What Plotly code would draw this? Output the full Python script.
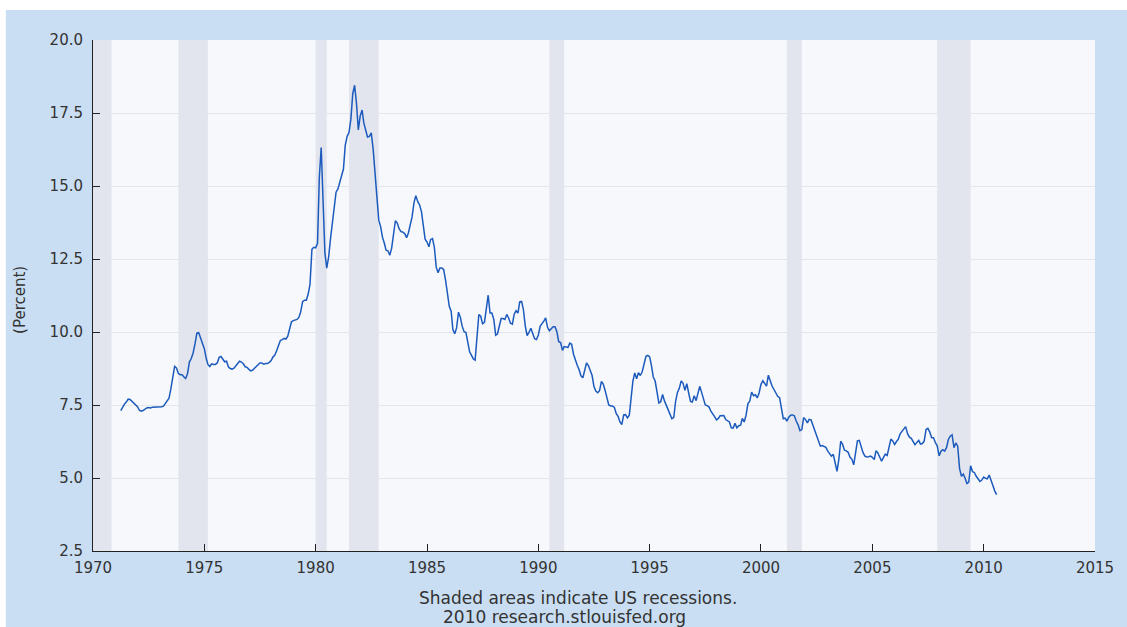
import pandas as pd
import plotly.graph_objects as go

# 30-year conventional mortgage rate, monthly, percent (Apr 1971 - Aug 2010)
rates_1970s = [
    7.31, 7.43, 7.53, 7.60, 7.70, 7.69, 7.63, 7.55, 7.48,                       # 1971 Apr-Dec
    7.44, 7.32, 7.29, 7.31, 7.37, 7.40, 7.41, 7.40, 7.42, 7.42, 7.43, 7.44,     # 1972
    7.44, 7.44, 7.46, 7.54, 7.65, 7.73, 8.05, 8.50, 8.82, 8.77, 8.58, 8.54,     # 1973
    8.54, 8.46, 8.41, 8.58, 8.97, 9.09, 9.28, 9.59, 9.96, 9.98, 9.79, 9.62,     # 1974
    9.43, 9.10, 8.89, 8.82, 8.91, 8.89, 8.89, 8.94, 9.13, 9.16, 9.08, 8.98,     # 1975
    9.00, 8.80, 8.75, 8.73, 8.76, 8.85, 8.94, 9.00, 8.97, 8.91, 8.81, 8.79,     # 1976
    8.72, 8.67, 8.69, 8.75, 8.83, 8.86, 8.94, 8.94, 8.90, 8.92, 8.92, 8.96,     # 1977
    9.02, 9.15, 9.20, 9.36, 9.57, 9.71, 9.74, 9.78, 9.76, 9.86, 10.11, 10.35,   # 1978
    10.39, 10.41, 10.43, 10.50, 10.69, 11.04, 11.09, 11.09, 11.30, 11.64, 12.83, 12.90,  # 1979
]
rates_1980s = [
    12.88, 13.04, 15.28, 16.32, 14.26, 12.71, 12.19, 12.56, 13.20, 13.79, 14.21, 14.79,  # 1980
    14.90, 15.13, 15.40, 15.58, 16.40, 16.70, 16.83, 17.29, 18.16, 18.45, 17.83, 16.92,  # 1981
    17.40, 17.60, 17.16, 16.89, 16.68, 16.70, 16.82, 16.27, 15.43, 14.61, 13.83, 13.62,  # 1982
    13.25, 13.04, 12.80, 12.78, 12.63, 12.87, 13.42, 13.81, 13.73, 13.54, 13.44, 13.42,  # 1983
    13.37, 13.23, 13.39, 13.65, 13.94, 14.42, 14.67, 14.47, 14.35, 14.13, 13.64, 13.18,  # 1984
    13.08, 12.92, 13.17, 13.20, 12.91, 12.22, 12.03, 12.19, 12.19, 12.14, 11.78, 11.26,  # 1985
    10.88, 10.71, 10.08, 9.94, 10.14, 10.68, 10.51, 10.20, 10.01, 9.98, 9.70, 9.32,      # 1986
    9.20, 9.08, 9.04, 9.83, 10.60, 10.54, 10.28, 10.33, 10.89, 11.26, 10.65, 10.65,      # 1987
    10.43, 9.89, 9.93, 10.20, 10.46, 10.46, 10.43, 10.60, 10.48, 10.30, 10.27, 10.61,    # 1988
    10.73, 10.65, 11.03, 11.05, 10.77, 10.20, 9.88, 9.99, 10.13, 9.95, 9.77, 9.74,       # 1989
]
rates_1990s = [
    9.90, 10.20, 10.27, 10.37, 10.48, 10.16, 10.04, 10.10, 10.18, 10.18, 10.01, 9.67,    # 1990
    9.64, 9.37, 9.50, 9.49, 9.47, 9.62, 9.58, 9.24, 9.01, 8.86, 8.71, 8.50,              # 1991
    8.43, 8.76, 8.94, 8.85, 8.67, 8.51, 8.13, 7.98, 7.92, 7.99, 8.31, 8.22,              # 1992
    7.99, 7.68, 7.50, 7.47, 7.47, 7.42, 7.21, 7.11, 6.92, 6.83, 7.16, 7.17,              # 1993
    7.06, 7.15, 7.68, 8.32, 8.60, 8.40, 8.61, 8.51, 8.64, 8.93, 9.17, 9.20,              # 1994
    9.15, 8.83, 8.46, 8.32, 7.96, 7.57, 7.61, 7.86, 7.64, 7.48, 7.38, 7.20,              # 1995
    7.03, 7.08, 7.62, 7.93, 8.07, 8.32, 8.25, 8.00, 8.23, 7.92, 7.62, 7.60,              # 1996
    7.82, 7.65, 7.90, 8.14, 7.94, 7.69, 7.50, 7.48, 7.43, 7.29, 7.21, 7.10,              # 1997
    6.99, 7.04, 7.13, 7.14, 7.14, 7.00, 6.95, 6.92, 6.72, 6.71, 6.87, 6.72,              # 1998
    6.79, 6.81, 7.04, 6.92, 7.15, 7.55, 7.63, 7.94, 7.82, 7.85, 7.74, 7.91,              # 1999
]
rates_2000s = [
    8.21, 8.33, 8.24, 8.15, 8.52, 8.29, 8.15, 8.03, 7.91, 7.80, 7.75, 7.38,              # 2000
    7.03, 7.05, 6.95, 7.08, 7.15, 7.16, 7.13, 6.95, 6.82, 6.62, 6.66, 7.07,              # 2001
    7.00, 6.89, 7.01, 6.99, 6.81, 6.65, 6.49, 6.29, 6.09, 6.11, 6.07, 6.05,              # 2002
    5.92, 5.84, 5.75, 5.81, 5.48, 5.23, 5.63, 6.26, 6.15, 5.95, 5.93, 5.88,              # 2003
    5.71, 5.64, 5.45, 5.83, 6.27, 6.29, 6.06, 5.87, 5.75, 5.72, 5.73, 5.75,              # 2004
    5.71, 5.63, 5.93, 5.86, 5.72, 5.58, 5.70, 5.82, 5.77, 6.07, 6.33, 6.27,              # 2005
    6.15, 6.25, 6.32, 6.51, 6.60, 6.68, 6.76, 6.52, 6.40, 6.36, 6.24, 6.14,              # 2006
    6.22, 6.29, 6.16, 6.18, 6.26, 6.66, 6.70, 6.57, 6.38, 6.38, 6.21, 6.10,              # 2007
    5.76, 5.92, 5.97, 5.92, 6.04, 6.32, 6.43, 6.48, 6.04, 6.20, 6.09, 5.33,              # 2008
    5.06, 5.13, 5.00, 4.81, 4.86, 5.42, 5.22, 5.19, 5.06, 4.95, 4.88, 4.93,              # 2009
]
rates_2010 = [5.03, 4.99, 4.97, 5.10, 4.89, 4.74, 4.56, 4.43]                          # 2010 Jan-Aug

series_start = "1971-04-01"

# NBER recessions (peak month, trough month)
recession_starts = ["1969-12-01", "1973-11-01", "1980-01-01", "1981-07-01",
                    "1990-07-01", "2001-03-01", "2007-12-01"]
recession_ends = ["1970-11-01", "1975-03-01", "1980-07-01", "1982-11-01",
                  "1991-03-01", "2001-11-01", "2009-06-01"]

x_ticks = [str(y) for y in range(1970, 2016, 5)]
y_ticks = [2.5, 5.0, 7.5, 10.0, 12.5, 15.0, 17.5, 20.0]

values = rates_1970s + rates_1980s + rates_1990s + rates_2000s + rates_2010
dates = pd.date_range(series_start, periods=len(values), freq="MS")

BLUE_BG = "#c9def2"
PLOT_BG = "#f7f8fb"
REC = "#e2e5ed"
TXT = "#333333"
FONT = "DejaVu Sans"

fig = go.Figure()
fig.add_trace(go.Scatter(x=dates, y=values, mode="lines",
                         line=dict(color="#1c5bbd", width=1.5),
                         hoverinfo="x+y", showlegend=False))

shapes = [
    dict(type="rect", xref="paper", yref="paper",
         x0=-0.087, x1=1.04, y0=-0.3, y1=1.0587,
         fillcolor=BLUE_BG, line=dict(width=0), layer="below"),
    dict(type="rect", xref="paper", yref="paper",
         x0=0, x1=1, y0=0, y1=1,
         fillcolor=PLOT_BG, line=dict(width=0), layer="below"),
]
for s, e in zip(recession_starts, recession_ends):
    s = max(s, "1970-01-01")
    shapes.append(dict(type="rect", xref="x", yref="y", x0=s, x1=e, y0=2.5, y1=20,
                       fillcolor=REC, line=dict(width=0), layer="between"))

fig.update_layout(
    width=1127, height=627,
    margin=dict(l=93, r=32, t=40, b=76),
    paper_bgcolor="white", plot_bgcolor=PLOT_BG,
    font=dict(family=FONT, size=15, color=TXT),
    shapes=shapes,
    xaxis=dict(type="date", range=["1970-01-01", "2015-01-01"],
               tickvals=[f"{y}-01-01" for y in x_ticks], ticktext=x_ticks,
               ticks="inside", ticklen=7, tickcolor="#222", showline=True,
               linecolor="#222", linewidth=1, showgrid=False, zeroline=False,
               ticklabelstandoff=3, tickfont=dict(size=15, color=TXT)),
    yaxis=dict(range=[2.5, 20], tickvals=y_ticks,
               ticktext=[f"{v:.1f}" for v in y_ticks],
               ticks="inside", ticklen=7, tickcolor="#222", showline=True,
               linecolor="#222", linewidth=1, showgrid=True, gridcolor="#e4e6ee",
               gridwidth=1, zeroline=False, ticklabelstandoff=6,
               tickfont=dict(size=15, color=TXT)),
    annotations=[
        dict(text="(Percent)", xref="paper", yref="paper", x=-0.073, y=0.491,
             textangle=-90, showarrow=False, xanchor="center", yanchor="middle",
             font=dict(size=15, color=TXT)),
        dict(text="Shaded areas indicate US recessions.", xref="paper", yref="paper",
             x=0.484, y=-0.092, showarrow=False, xanchor="center", yanchor="middle",
             font=dict(size=17, color=TXT)),
        dict(text="2010 research.stlouisfed.org", xref="paper", yref="paper",
             x=0.471, y=-0.129, showarrow=False, xanchor="center", yanchor="middle",
             font=dict(size=17, color=TXT)),
    ],
)

fig.write_html("out.html", config={"displayModeBar": False},
               post_script="document.body.style.margin='0';")
